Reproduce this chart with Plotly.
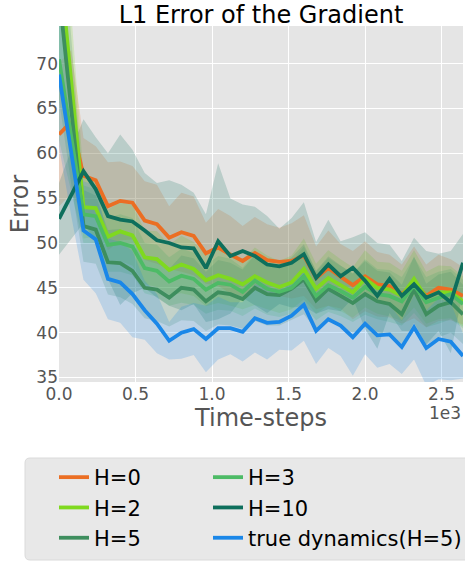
import plotly.graph_objects as go

# ---------------- data ----------------
time_steps = [0, 80, 160, 240, 320, 400, 480, 560, 640, 720, 800, 880, 960, 1040,
              1120, 1200, 1280, 1360, 1440, 1520, 1600, 1680, 1760, 1840, 1920,
              2000, 2080, 2160, 2240, 2320, 2400, 2480, 2560, 2640]

h0_mean = [62.1, 63.5, 57.5, 57.0, 54.1, 54.7, 54.5, 52.5, 52.1, 50.6, 51.2, 50.8,
           48.85, 49.5, 48.7, 48.0, 48.9, 48.1, 47.9, 48.0, 48.6, 46.1, 47.2, 46.3,
           45.3, 46.3, 45.4, 45.2, 44.3, 45.6, 44.1, 45.0, 44.8, 44.1]
h0_std = [8, 8, 4.2, 3.8, 4.9, 4.4, 4.1, 4.4, 4.4, 3.5, 4.4, 4.4, 3.4, 4.3, 4.3, 3.9,
          4.0, 4.0, 3.8, 4.2, 4.5, 3.5, 4.2, 3.6, 3.8, 3.9, 3.6, 3.5, 3.3, 4.0, 3.5,
          3.7, 3.4, 3.2]

h2_mean = [82, 68, 54.0, 53.9, 50.7, 51.3, 50.85, 48.4, 48.2, 47.0, 47.6, 47.1,
           45.85, 46.4, 46.0, 45.4, 46.3, 45.6, 45.1, 45.6, 47.1, 44.9, 46.1, 45.3,
           44.5, 46.0, 45.0, 44.8, 44.1, 46.0, 43.9, 44.5, 44.5, 43.5]
h2_std = [12, 8, 3.5, 3.2, 3.0, 3.3, 3.4, 3.0, 3.1, 2.8, 3.2, 3.0, 2.9, 3.1, 3.0, 2.8,
          3.2, 3.0, 2.9, 3.0, 3.4, 2.8, 3.1, 2.9, 2.8, 3.2, 2.9, 3.0, 2.8, 3.2, 2.9,
          3.0, 2.9, 2.8]

h5_mean = [78, 64.5, 51.9, 51.5, 47.85, 47.75, 46.9, 45.0, 44.8, 43.9, 45.0, 44.8,
           43.5, 44.5, 44.3, 43.75, 45.0, 44.3, 44.2, 44.9, 45.95, 43.6, 44.9, 44.1,
           43.3, 44.3, 43.5, 43.2, 42.05, 44.8, 42.05, 43.0, 43.4, 42.05]
h5_std = [12, 8, 4.0, 3.8, 3.6, 3.8, 3.7, 3.4, 3.5, 3.2, 3.6, 3.5, 3.3, 3.6, 3.5, 3.3,
          3.7, 3.5, 3.4, 3.5, 3.9, 3.3, 3.6, 3.4, 3.3, 3.7, 3.4, 3.5, 3.3, 3.7, 3.4,
          3.5, 3.4, 3.3]

h3_mean = [70.5, 61.9, 53.2, 53.0, 49.8, 50.0, 49.6, 47.2, 46.9, 45.7, 46.35, 46.0,
           44.8, 45.55, 45.35, 44.55, 45.8, 44.9, 44.55, 45.0, 46.3, 44.1, 45.3, 44.65,
           43.9, 45.1, 44.3, 44.1, 43.5, 45.3, 43.4, 43.9, 44.3, 43.2]
h3_std = [9, 6, 3.2, 3.0, 3.0, 3.2, 3.2, 2.8, 2.9, 2.7, 3.0, 2.9, 2.7, 3.0, 2.9, 2.7,
          3.1, 2.9, 2.8, 2.9, 3.3, 2.7, 3.0, 2.8, 2.7, 3.1, 2.8, 2.9, 2.7, 3.1, 2.8,
          2.9, 2.8, 2.7]

h10_mean = [52.7, 55.4, 58.0, 56.0, 53.0, 52.6, 52.4, 51.4, 50.3, 50.0, 49.5, 49.4,
            47.2, 50.2, 48.55, 49.1, 48.55, 47.6, 47.4, 47.8, 48.75, 46.1, 47.6, 46.3,
            47.25, 45.8, 44.1, 46.0, 44.1, 45.4, 43.9, 44.5, 43.4, 47.8]
h10_std = [4, 5, 5.8, 5.8, 7, 9.5, 8, 6.4, 6.4, 7, 7, 6.2, 6, 8.7, 6.4, 5.2, 5.5, 5.4,
           4.2, 5, 5.8, 4.0, 5, 3.9, 3.4, 5.4, 5.9, 3.8, 3.9, 5.2, 5.2, 4.3, 5.7, 3.2]

true_mean = [68.8, 60.0, 51.4, 50.4, 46.0, 45.6, 44.3, 42.5, 41.0, 39.1, 40.0, 40.4,
             39.3, 40.5, 40.5, 40.1, 41.6, 41.1, 41.2, 41.9, 43.1, 40.2, 41.5, 40.8,
             39.5, 41.0, 39.7, 39.8, 38.4, 40.6, 38.3, 39.3, 39.0, 37.4]
true_std = [8, 7, 5.5, 6, 4.5, 4.5, 4.8, 3.3, 3.3, 2.1, 2.9, 2.9, 3.7, 3.5, 2.9, 3.3,
            3.8, 4.1, 3.1, 3.9, 4.0, 3.7, 3.2, 3.4, 4.3, 3.4, 3.6, 3.3, 3.0, 3.6, 4.2,
            4.5, 4.3, 2.5]

x_tickvals = [0, 500, 1000, 1500, 2000, 2500]
x_ticktext = ["0.0", "0.5", "1.0", "1.5", "2.0", "2.5"]
y_tickvals = [35, 40, 45, 50, 55, 60, 65, 70]

# draw order (matplotlib order) and legend column (2-column legend)
series = [
    ("H=0", h0_mean, h0_std, (235, 110, 35), "legend"),
    ("H=2", h2_mean, h2_std, (127, 217, 31), "legend"),
    ("H=5", h5_mean, h5_std, (62, 142, 94), "legend"),
    ("H=3", h3_mean, h3_std, (77, 187, 102), "legend2"),
    ("H=10", h10_mean, h10_std, (14, 111, 92), "legend2"),
    ("true dynamics(H=5)", true_mean, true_std, (26, 135, 232), "legend2"),
]

fig = go.Figure()

# bands first
for name, m, s, c, leg in series:
    lower = [a - b for a, b in zip(m, s)]
    upper = [a + b for a, b in zip(m, s)]
    fig.add_trace(go.Scatter(x=time_steps, y=lower, mode="lines",
                             line=dict(width=0), showlegend=False, hoverinfo="skip"))
    fig.add_trace(go.Scatter(x=time_steps, y=upper, mode="lines",
                             line=dict(width=0), fill="tonexty",
                             fillcolor="rgba(%d,%d,%d,0.2)" % c,
                             showlegend=False, hoverinfo="skip"))

# mean lines
for name, m, s, c, leg in series:
    fig.add_trace(go.Scatter(x=time_steps, y=m, mode="lines", name=name,
                             line=dict(color="rgb(%d,%d,%d)" % c, width=3.8),
                             legend=leg))

W, H = 465, 561
ml, mr, mt, mb = 59, 2, 26, 179
pw = W - ml - mr
ph = H - mt - mb

def px_x(p):
    return (p - ml) / pw

def px_y(p):
    return (H - mb - p) / ph

# legend background box (rounded)
x0, x1 = px_x(25), px_x(475)
y0, y1 = px_y(458), px_y(560)
rx, ry = 5 / pw, 5 / ph
path = (f"M {x0+rx},{y0} L {x1-rx},{y0} Q {x1},{y0} {x1},{y0-ry} "
        f"L {x1},{y1+ry} Q {x1},{y1} {x1-rx},{y1} L {x0+rx},{y1} "
        f"Q {x0},{y1} {x0},{y1+ry} L {x0},{y0-ry} Q {x0},{y0} {x0+rx},{y0} Z")

# horizontal legends with wide entries -> one entry per row (a column)
legend_common = dict(orientation="h", xref="container", yref="container",
                     xanchor="left", yanchor="top", bgcolor="rgba(0,0,0,0)",
                     borderwidth=0, entrywidth=320, entrywidthmode="pixels",
                     traceorder="normal",
                     font=dict(size=21, color="black"))

fig.update_layout(
    width=W, height=H, autosize=False,
    margin=dict(l=ml, r=mr, t=mt, b=mb),
    paper_bgcolor="white",
    plot_bgcolor="#E5E5E5",
    font=dict(family="DejaVu Sans", color="#555555"),
    title=dict(text="L1 Error of the Gradient", x=0.5, xref="paper",
               y=1 - 15 / H, yref="container", yanchor="middle",
               xanchor="center", font=dict(size=24, color="black")),
    xaxis=dict(range=[0, 2640], tickvals=x_tickvals, ticktext=x_ticktext,
               showgrid=True, gridcolor="white", gridwidth=1, zeroline=False,
               showline=False, ticks="", tickfont=dict(size=17, color="#555555"),
               automargin=False,
               title=dict(text="Time-steps", font=dict(size=24, color="#555555"),
                          standoff=0)),
    yaxis=dict(range=[34.5, 74.2], tickvals=y_tickvals,
               showgrid=True, gridcolor="white", gridwidth=1, zeroline=False,
               showline=False, ticks="", tickfont=dict(size=17, color="#555555"),
               automargin=False,
               title=dict(text="Error", font=dict(size=24, color="#555555"),
                          standoff=0)),
    shapes=[dict(type="path", xref="paper", yref="paper", path=path,
                 fillcolor="#E8E8E8", line=dict(color="#DADADA", width=1),
                 layer="below")],
    annotations=[dict(text="1e3", x=1, y=px_y(413), xref="paper", yref="paper",
                      xanchor="right", yanchor="middle", showarrow=False,
                      font=dict(size=17, color="#555555"))],
    legend=dict(x=54 / W, y=1 - 457 / H, **legend_common),
    legend2=dict(x=208 / W, y=1 - 457 / H, **legend_common),
)

fig.write_html("out.html",
               config={"displayModeBar": False},
               post_script="document.body.style.margin='0';"
                           "document.body.style.overflow='hidden';")
